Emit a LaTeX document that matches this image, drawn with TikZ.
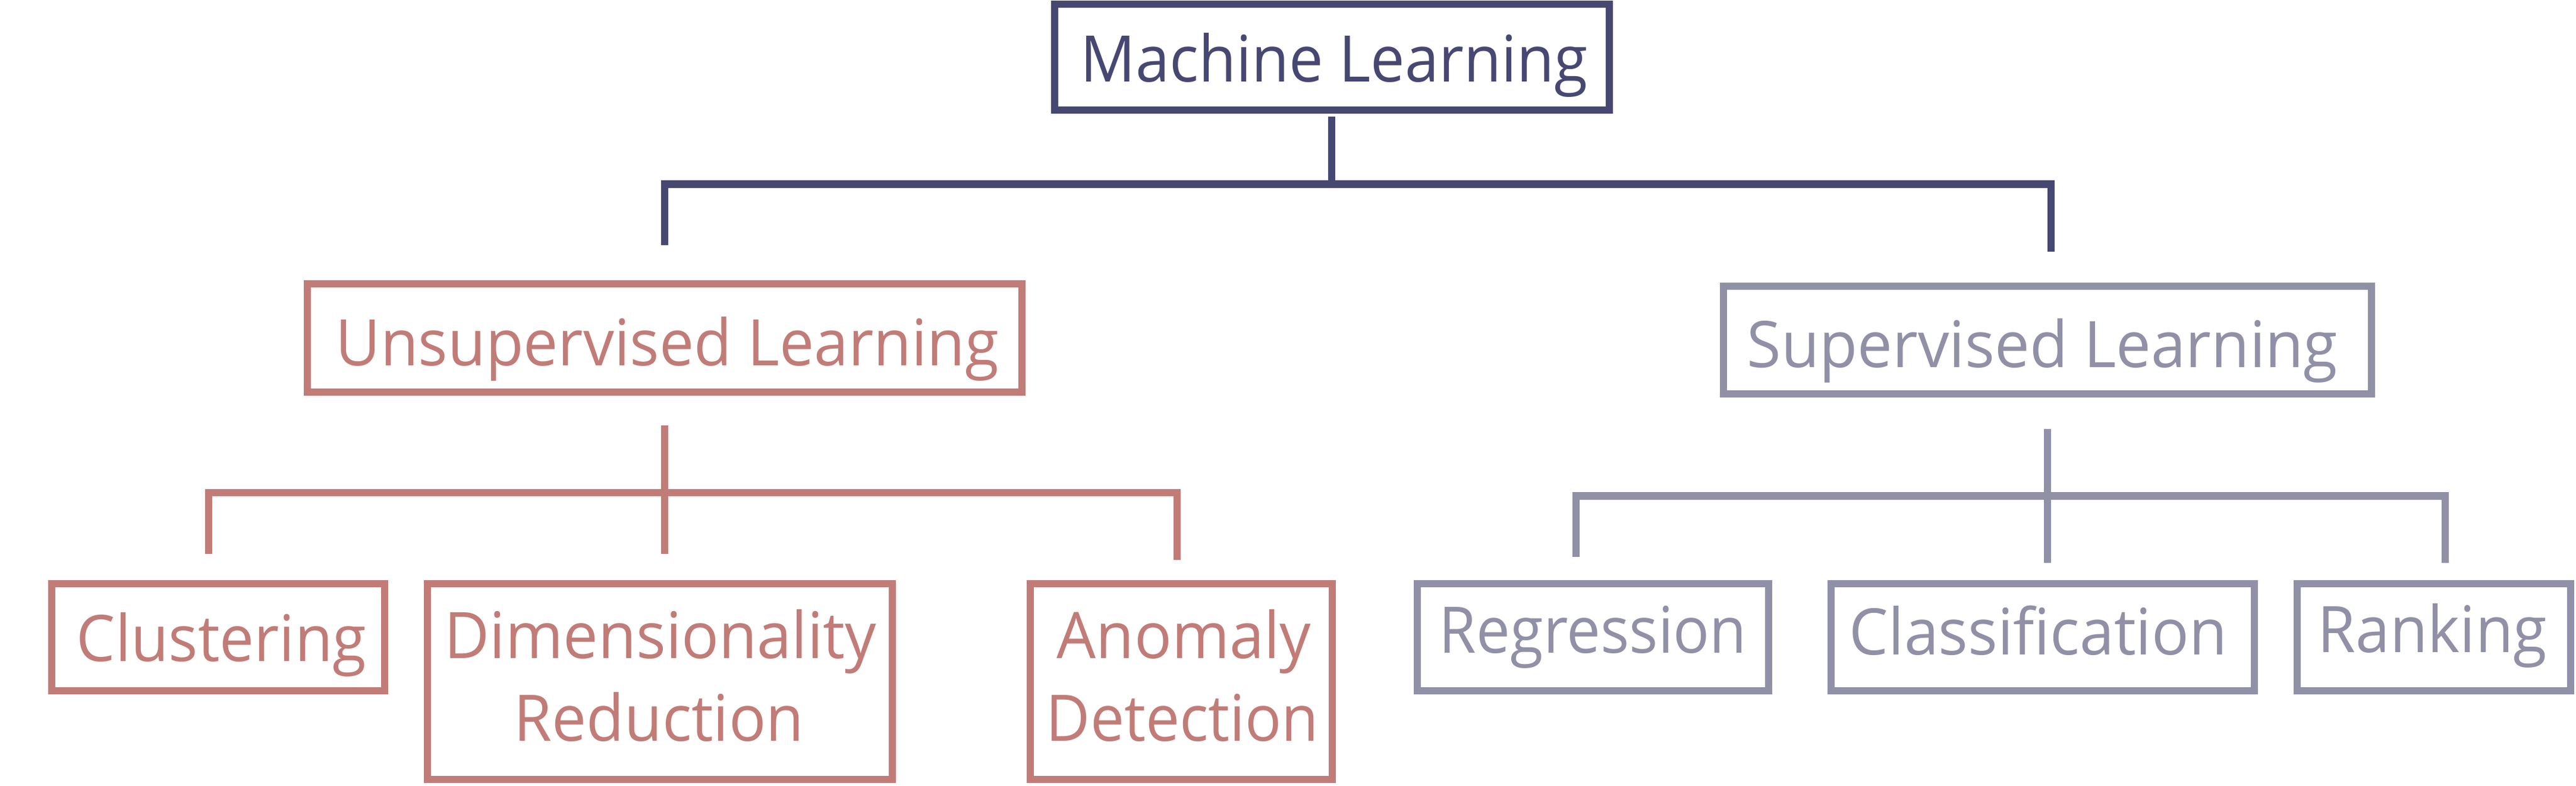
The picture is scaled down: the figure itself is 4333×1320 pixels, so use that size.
\documentclass[tikz,border=0pt]{standalone}
\usepackage{fontspec}
\usepackage{graphicx}
\setmainfont{Open Sans}
\definecolor{navy}{HTML}{474872}
\definecolor{rose}{HTML}{C17C78}
\definecolor{lav}{HTML}{9090A6}
\newcommand\fitw[2]{\resizebox{#1}{\height}{#2}}
\tikzset{
  boxnode/.style={draw, rectangle, inner sep=0pt, line width=0.125cm, line join=miter},
  conn/.style={line width=0.125cm, line cap=butt, line join=miter},
  lbl/.style={anchor=base, inner sep=0pt, font=\fontsize{30.69}{36}\selectfont},
}
\begin{document}
\begin{tikzpicture}[x={(0.01cm,0)}, y={(0,-0.01cm)}]
\useasboundingbox (0,0) rectangle (4333,1320);
% boxes
\node[boxnode, navy, minimum width=9.325cm, minimum height=1.775cm] (ml) at (2240.5,96) {};
\node[boxnode, rose, minimum width=12.015cm, minimum height=1.815cm] (ul) at (1118,568) {};
\node[boxnode, lav, minimum width=10.895cm, minimum height=1.805cm] (sl) at (3444,571.5) {};
\node[boxnode, rose, minimum width=5.595cm, minimum height=1.795cm] (cl) at (367,1071) {};
\node[boxnode, rose, minimum width=7.815cm, minimum height=3.285cm] (dr) at (1110,1145.5) {};
\node[boxnode, rose, minimum width=5.075cm, minimum height=3.285cm] (ad) at (1987,1145.5) {};
\node[boxnode, lav, minimum width=5.905cm, minimum height=1.795cm] (rg) at (2679.5,1071) {};
\node[boxnode, lav, minimum width=7.115cm, minimum height=1.795cm] (cs) at (3436,1071) {};
\node[boxnode, lav, minimum width=4.595cm, minimum height=1.795cm] (rk) at (4094,1071) {};
% labels
\node[lbl, text=navy] (mlt) at (2244,137) {\fitw{8.52cm}{Machine Learning}};
\node[lbl, text=rose] (ult) at (1122.5,614) {\fitw{11.15cm}{Unsupervised Learning}};
\node[lbl, text=lav] (slt) at (3435.5,617) {\fitw{9.93cm}{Supervised Learning}};
\node[lbl, text=rose] (clt) at (372.5,1111) {\fitw{4.87cm}{Clustering}};
\node[lbl, text=rose] (drt1) at (1111,1106) {\fitw{7.26cm}{Dimensionality}};
\node[lbl, text=rose] (drt2) at (1108.5,1245) {\fitw{4.87cm}{Reduction}};
\node[lbl, text=rose] (adt1) at (1991.5,1106) {\fitw{4.27cm}{Anomaly}};
\node[lbl, text=rose] (adt2) at (1989,1245) {\fitw{4.58cm}{Detection}};
\node[lbl, text=lav] (rgt) at (2679.5,1097) {\fitw{5.17cm}{Regression}};
\node[lbl, text=lav] (cst) at (3428.5,1100) {\fitw{6.35cm}{Classification}};
\node[lbl, text=lav] (rkt) at (4091.5,1096) {\fitw{3.85cm}{Ranking}};
% connector points
\coordinate (mlS) at (2240,196);
\coordinate (mlJ) at (2240,309.5);
\coordinate (ulD) at (1118,412);
\coordinate (slD) at (3450,423);
\coordinate (ulS) at (1118,715);
\coordinate (ulJ) at (1118,828);
\coordinate (clD) at (351,931);
\coordinate (drD) at (1118,931);
\coordinate (adD) at (1980,941);
\coordinate (slS) at (3444,721);
\coordinate (slJ) at (3444,833.5);
\coordinate (rgD) at (2651,936);
\coordinate (csD) at (3444,946);
\coordinate (rkD) at (4113,946);
% connectors
\draw[conn, navy] (mlS) -- (mlJ);
\draw[conn, navy] (ulD) |- (mlJ) -| (slD);
\draw[conn, rose] (ulS) -- (drD);
\draw[conn, rose] (clD) |- (ulJ) -| (adD);
\draw[conn, lav] (slS) -- (csD);
\draw[conn, lav] (rgD) |- (slJ) -| (rkD);
\end{tikzpicture}
\end{document}
